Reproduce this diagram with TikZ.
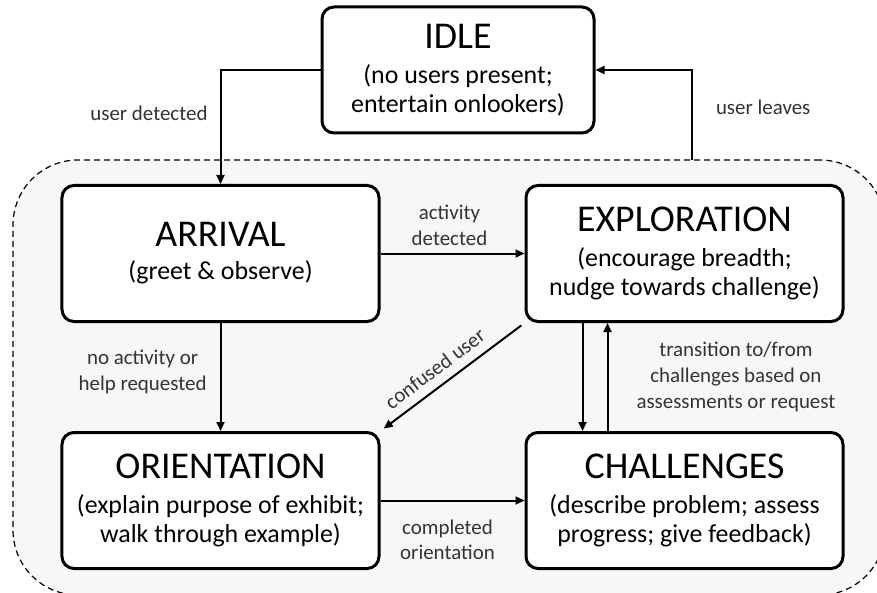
\documentclass[tikz,border=0pt]{standalone}
\usepackage{fontspec}
\setmainfont{Carlito}
\usepackage{tikz}
\usetikzlibrary{arrows.meta,positioning}

\newcommand\titlefont{\fontsize{38}{29}\selectfont}
\newcommand\subfont{\fontsize{26}{29}\selectfont}
\newcommand\condfont{\fontsize{21}{26}\selectfont}

\tikzset{
  state/.style={draw,line width=3bp,rounded corners=12bp,fill=white,align=center,
    minimum width=317bp,minimum height=136bp,inner sep=2bp,font=\titlefont},
  trans/.style={line width=2bp,-{Triangle[length=9bp,width=8bp]}},
  cond/.style={font=\condfont,align=center,text=black!80,inner sep=2bp},
  session/.style={draw,dashed,dash pattern=on 6bp off 4bp,line width=1.2bp,
    rounded corners=65bp,fill=black!3}
}

\begin{document}
\begin{tikzpicture}[x=1bp,y=-1bp]
\clip (0,0) rectangle (877,593);

\node[session,minimum width=872bp,minimum height=435bp] (session) at (449,377.5) {};

\node[state,minimum width=272bp,minimum height=126bp] (idle) at (458,70)
  {IDLE\\[6bp]\subfont(no users present;\\\subfont entertain onlookers)};
\node[state] (arrival)     at (220.5,253.5) {ARRIVAL\\[4bp]\subfont(greet \& observe)};
\node[state] (exploration) at (684.5,253.5) {EXPLORATION\\[6bp]\subfont(encourage breadth;\\\subfont nudge towards challenge)};
\node[state] (orientation) at (220.5,500.5) {ORIENTATION\\[6bp]\subfont(explain purpose of exhibit;\\\subfont walk through example)};
\node[state] (challenges)  at (684.5,500.5) {CHALLENGES\\[6bp]\subfont(describe problem; assess\\\subfont progress; give feedback)};

\coordinate (leave) at (692,160);

\draw[trans] (idle.west) -| node[cond,pos=0.69,left=10bp] {user detected} (arrival.north);
\draw[trans] (leave) |- node[cond,pos=0.29,right=21bp] {user leaves} (idle.east);
\draw[trans] (arrival) -- node[cond,above=5bp,xshift=-3bp] {activity\\detected} (exploration);
\draw[trans] (arrival) -- node[cond,pos=0.45,left=11bp] {no activity or\\help requested} (orientation);
\draw[trans,shorten <=4bp,shorten >=4bp] (exploration.south west) -- node[cond,sloped,above=7bp,pos=0.55] {confused user} (orientation.north east);
\draw[trans] ([xshift=-102bp]exploration.south) -- ([xshift=-102bp]challenges.north);
\draw[trans] ([xshift=-77bp]challenges.north) -- node[cond,right=26bp] {transition to/from\\challenges based on\\assessments or request} ([xshift=-77bp]exploration.south);
\draw[trans] (orientation) -- node[cond,below=16bp,xshift=-5bp] {completed\\orientation} (challenges);
\end{tikzpicture}
\end{document}
